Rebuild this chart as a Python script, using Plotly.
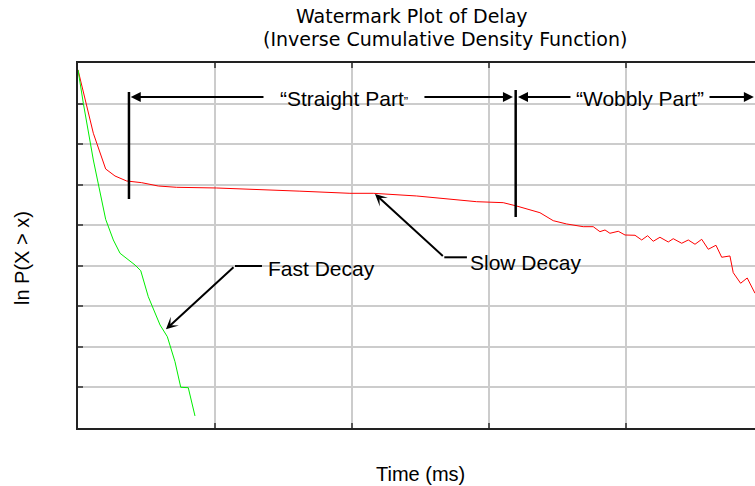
import plotly.graph_objects as go

# ---- data (x in grid units of time, y = ln P(X > x)) ----
slow_x = [0.0, 0.112, 0.202, 0.270, 0.355, 0.465, 0.586, 0.720, 1.012, 1.328, 1.62,
          1.985, 2.155, 2.472, 2.715, 2.910, 3.104, 3.202, 3.372, 3.469, 3.567, 3.688,
          3.761, 3.810, 3.847, 3.883, 3.944, 3.993, 4.066, 4.115, 4.158, 4.199, 4.248,
          4.309, 4.345, 4.407, 4.455, 4.504, 4.553, 4.601, 4.657, 4.699, 4.759, 4.783,
          4.837, 4.885, 4.942]
slow_y = [-0.17, -1.733, -2.613, -2.786, -2.909, -2.951, -3.033, -3.065, -3.082, -3.131, -3.16,
          -3.213, -3.213, -3.279, -3.361, -3.420, -3.444, -3.526, -3.691, -3.888, -3.969, -4.036,
          -4.036, -4.159, -4.117, -4.199, -4.149, -4.241, -4.248, -4.364, -4.258, -4.396, -4.297,
          -4.413, -4.332, -4.445, -4.364, -4.470, -4.347, -4.593, -4.494, -4.790, -4.758, -5.170,
          -5.431, -5.301, -5.678]

fast_x = [0.0, 0.039, 0.112, 0.202, 0.258, 0.307, 0.416, 0.458, 0.513, 0.599, 0.652,
          0.708, 0.750, 0.805, 0.854]
fast_y = [-0.17, -0.994, -2.391, -3.854, -4.364, -4.692, -4.980, -5.121, -5.762, -6.460, -6.748,
          -7.365, -7.996, -8.006, -8.703]

x_range = [0, 4.942]
y_range = [-9, 0]

FONT = "Arial, Liberation Sans, Helvetica, sans-serif"
TITLE_FONT = "DejaVu Sans, Arial, sans-serif"

fig = go.Figure()
fig.add_trace(go.Scatter(x=slow_x, y=slow_y, mode="lines",
                         line=dict(color="#ff0000", width=1), showlegend=False))
fig.add_trace(go.Scatter(x=fast_x, y=fast_y, mode="lines",
                         line=dict(color="#00ee00", width=1), showlegend=False))

ann = []
# titles
ann.append(dict(text="Watermark Plot of Delay", xref="paper", yref="paper",
                x=(412 - 78) / 677, y=(428 - 16) / 365, xanchor="center", yanchor="middle",
                showarrow=False, font=dict(family=TITLE_FONT, size=19, color="black")))
ann.append(dict(text="(Inverse Cumulative Density Function)", xref="paper", yref="paper",
                x=(445 - 78) / 677, y=(428 - 38.5) / 365, xanchor="center", yanchor="middle",
                showarrow=False, font=dict(family=TITLE_FONT, size=19, color="black")))
# axis titles
ann.append(dict(text="Time (ms)", xref="paper", yref="paper",
                x=(420 - 78) / 677, y=(428 - 474) / 365, xanchor="center", yanchor="middle",
                showarrow=False, font=dict(family=FONT, size=20, color="black")))
ann.append(dict(text="ln P(X > x)", xref="paper", yref="paper", textangle=-90,
                x=(22 - 78) / 677, y=(428 - 258) / 365, xanchor="center", yanchor="middle",
                showarrow=False, font=dict(family=FONT, size=20, color="black")))

# bracket labels
ann.append(dict(text="\u201cStraight Part<span style='font-size:13px'>\u201d</span>",
                x=1.942, y=-0.88, xref="x", yref="y", xanchor="center", yanchor="middle",
                showarrow=False, font=dict(family=FONT, size=21, color="black")))
ann.append(dict(text="\u201cWobbly Part\u201d",
                x=4.102, y=-0.88, xref="x", yref="y", xanchor="center", yanchor="middle",
                showarrow=False, font=dict(family=FONT, size=21, color="black")))

def arrow(hx, hy, tx, ty, head, width):
    return dict(x=hx, y=hy, ax=tx, ay=ty, xref="x", yref="y", axref="x", ayref="y",
                text="", showarrow=True, arrowhead=head, arrowsize=1,
                arrowwidth=width, arrowcolor="black", standoff=0, startstandoff=0)

# bracket arrows
ann.append(arrow(0.385, -0.838, 1.365, -0.838, 2, 2))
ann.append(arrow(3.175, -0.838, 2.518, -0.838, 2, 2))
ann.append(arrow(3.212, -0.838, 3.606, -0.838, 2, 2))
ann.append(arrow(4.934, -0.838, 4.599, -0.838, 2, 2))

# decay labels and arrows
ann.append(dict(text="Fast Decay", x=1.372, y=-5.06, xref="x", yref="y",
                xanchor="left", yanchor="middle", showarrow=False,
                font=dict(family=FONT, size=21, color="black")))
ann.append(dict(text="Slow Decay", x=2.845, y=-4.91, xref="x", yref="y",
                xanchor="left", yanchor="middle", showarrow=False,
                font=dict(family=FONT, size=21, color="black")))
ann.append(arrow(0.642, -6.566, 1.146, -5.005, 3, 2))
ann.append(arrow(2.168, -3.230, 2.674, -4.791, 3, 2))

shapes = [
    dict(type="line", xref="x", yref="y", x0=0.372, x1=0.372, y0=-0.715, y1=-3.353,
         line=dict(color="black", width=2.5)),
    dict(type="line", xref="x", yref="y", x0=3.195, x1=3.195, y0=-0.666, y1=-3.797,
         line=dict(color="black", width=2.5)),
    dict(type="line", xref="x", yref="y", x0=1.146, x1=1.343, y0=-5.005, y1=-5.005,
         line=dict(color="black", width=2)),
    dict(type="line", xref="x", yref="y", x0=2.674, x1=2.839, y0=-4.791, y1=-4.791,
         line=dict(color="black", width=2)),
]

fig.update_layout(
    width=755, height=486,
    margin=dict(l=78, r=0, t=63, b=58),
    paper_bgcolor="white", plot_bgcolor="white",
    annotations=ann, shapes=shapes,
    xaxis=dict(range=x_range, dtick=1, tick0=0, showticklabels=False,
               showgrid=True, gridcolor="#cccccc", gridwidth=1.5, zeroline=False,
               showline=True, linecolor="#222222", linewidth=2, mirror="ticks",
               ticks="inside", ticklen=5, tickcolor="#555555", tickwidth=2),
    yaxis=dict(range=y_range, dtick=1, tick0=0, showticklabels=False,
               showgrid=True, gridcolor="#cccccc", gridwidth=1.5, zeroline=False,
               showline=True, linecolor="#222222", linewidth=2, mirror=False,
               ticks="inside", ticklen=5, tickcolor="#555555", tickwidth=2),
)

fig.write_html("out.html")
